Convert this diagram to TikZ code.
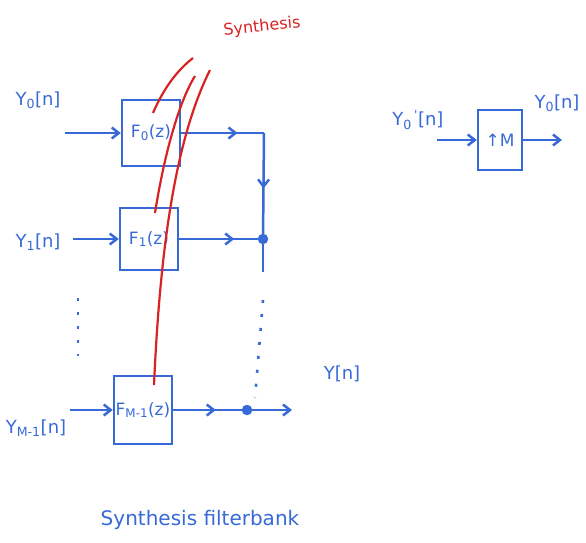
\documentclass[tikz,border=0pt]{standalone}
\usepackage{fontspec}
\setmainfont{DejaVu Sans}
\usetikzlibrary{arrows.meta,decorations.markings}
\definecolor{penblue}{RGB}{55,105,215}
\definecolor{penred}{RGB}{215,35,35}
\tikzset{
  blk/.style={draw=penblue, line width=2.5pt, minimum width=58pt, minimum height=66pt, inner sep=0pt, text=penblue, font=\fontsize{17}{19}\selectfont},
  lbl/.style={text=penblue, font=\fontsize{18}{20}\selectfont, inner sep=1pt},
  wire/.style={draw=penblue, line width=2.5pt},
  arr/.style={wire, -{Straight Barb[length=7pt,width=11pt]}},
  midarr/.style={wire, postaction={decorate}, decoration={markings, mark=at position #1 with {\arrow{Straight Barb[length=7pt,width=11pt]}}}},
  jdot/.style={circle, fill=penblue, draw=penblue, inner sep=0pt, minimum size=10pt},
  sparse/.style={wire, line width=2.6pt, dash pattern=on 3pt off 11pt},
  redline/.style={draw=penred, line width=2.2pt},
}
\begin{document}
\begin{tikzpicture}[x=1pt,y=-1pt]
\path[use as bounding box] (0,0) rectangle (586,543);
% filter boxes
\node[blk] (F0) at (151,133) {F\textsubscript{0}(z)};
\node[blk, minimum height=62pt] (F1) at (149,239) {F\textsubscript{1}(z)};
\node[blk, minimum height=68pt] (FM) at (143,410) {F\textsubscript{M-1}(z)};
% input labels
\node[lbl] (y0) at (38,100) {Y\textsubscript{0}[n]};
\node[lbl] (y1) at (38,242) {Y\textsubscript{1}[n]};
\node[lbl] (yM) at (36,428) {Y\textsubscript{M-1}[n]};
% input arrows
\coordinate (i0) at (65,133);
\coordinate (i1) at (73,239);
\coordinate (iM) at (70,410);
\draw[arr] (i0) -- (F0.west);
\draw[arr] (i1) -- (F1.west);
\draw[arr] (iM) -- (FM.west);
% left dots
\coordinate (ld1) at (78,298);
\coordinate (ld2) at (78,356);
\draw[sparse] (ld1) -- (ld2);
% summation
\coordinate (c0) at (264,133);
\node[jdot] (d1) at (263,239) {};
\node[jdot] (dM) at (247,410) {};
\coordinate (v1) at (263,272);
\coordinate (vd1) at (263,300);
\coordinate (vd2) at (255,398);
\coordinate (yo) at (292,410);
\draw[midarr=0.68] (F0.east) -- (c0);
\draw[midarr=0.55] (c0) -- (d1);
\draw[midarr=0.7] (F1.east) -- (d1);
\draw[wire] (d1) -- (v1);
\draw[sparse] (vd1) -- (vd2);
\draw[midarr=0.62] (FM.east) -- (dM);
\draw[arr] (dM) -- (yo);
\node[lbl] (yn) at (342,374) {Y[n]};
\node[lbl, font=\fontsize{20}{22}\selectfont] (cap) at (200,520) {Synthesis filterbank};
% red annotation
\node[text=penred, font=\fontsize{16}{18}\selectfont, rotate=6] (syn) at (262,27) {Synthesis};
\draw[redline] (153,113) .. controls (165,85) and (180,68) .. (193,58);
\draw[redline] (155,213) .. controls (165,150) and (180,100) .. (195,76);
\draw[redline] (154,385) .. controls (160,250) and (175,140) .. (210,70);
% upsampler
\node[blk, minimum width=44pt, minimum height=60pt] (U) at (500,140) {↑M};
\node[lbl] (yp) at (418,120) {Y\textsubscript{0}\textsuperscript{\,\textquotesingle}[n]};
\node[lbl] (yq) at (557,103) {Y\textsubscript{0}[n]};
\coordinate (ui) at (437,140);
\coordinate (uo) at (562,140);
\draw[arr] (ui) -- (U.west);
\draw[arr] (U.east) -- (uo);
\end{tikzpicture}
\end{document}
